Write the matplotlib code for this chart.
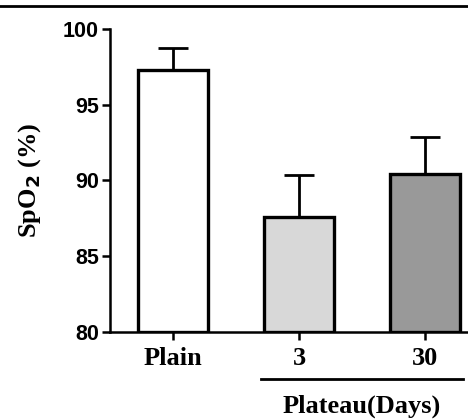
import matplotlib
matplotlib.use("Agg")
import matplotlib.pyplot as plt
from matplotlib.lines import Line2D

categories = ["Plain", "3", "30"]
means = [97.3, 87.6, 90.4]
err_up = [1.45, 2.75, 2.5]
colors = ["#ffffff", "#d8d8d8", "#999999"]
yticks = [80, 85, 90, 95, 100]
group_label = "Plateau(Days)"

W, H = 468, 419
fig = plt.figure(figsize=(W / 100, H / 100), dpi=100)
ax = fig.add_axes([110 / W, (H - 332) / H, 378 / W, (332 - 29) / H])

x = list(range(len(categories)))
ax.bar(x, [m - 80 for m in means], bottom=80, width=0.55, color=colors,
       edgecolor="black", linewidth=2.4, zorder=2)
ax.errorbar(x, means, yerr=[[0] * len(err_up), err_up], fmt="none",
            ecolor="black", elinewidth=2.0, capsize=11, capthick=2.0, zorder=1)

ax.set_xlim(-0.5, 2.5)
ax.set_ylim(80, 100)
ax.set_yticks(yticks)
ax.set_yticklabels([str(t) for t in yticks], fontsize=15.5, fontweight="bold",
                   family="Liberation Sans")
ax.set_xticks(x)
ax.set_xticklabels(categories, fontsize=19, fontweight="bold", family="Liberation Serif")
for s in ["top", "right"]:
    ax.spines[s].set_visible(False)
for s in ["left", "bottom"]:
    ax.spines[s].set_linewidth(1.8)
ax.tick_params(axis="both", width=1.8, length=6, direction="out")
ax.tick_params(axis="y", pad=2)
ax.tick_params(axis="x", pad=5)

ax.set_ylabel("SpO$_\\mathbf{2}$ (%)", fontsize=19, fontweight="bold",
              family="Liberation Serif")
ax.yaxis.set_label_coords(-0.177, 0.5)

# group line and label
trans = ax.get_xaxis_transform()
ax.add_line(Line2D([0.7, 2.3], [-0.155, -0.155], transform=trans, color="black",
                   linewidth=2.0, clip_on=False))
ax.text(1.5, -0.245, group_label, transform=trans, ha="center", va="center",
        fontsize=19, fontweight="bold", family="Liberation Serif")

# top border line
fig.add_artist(Line2D([0, 1], [1 - 6 / H, 1 - 6 / H], transform=fig.transFigure,
                      color="black", linewidth=2.0))

fig.savefig("out.png", dpi=100)
